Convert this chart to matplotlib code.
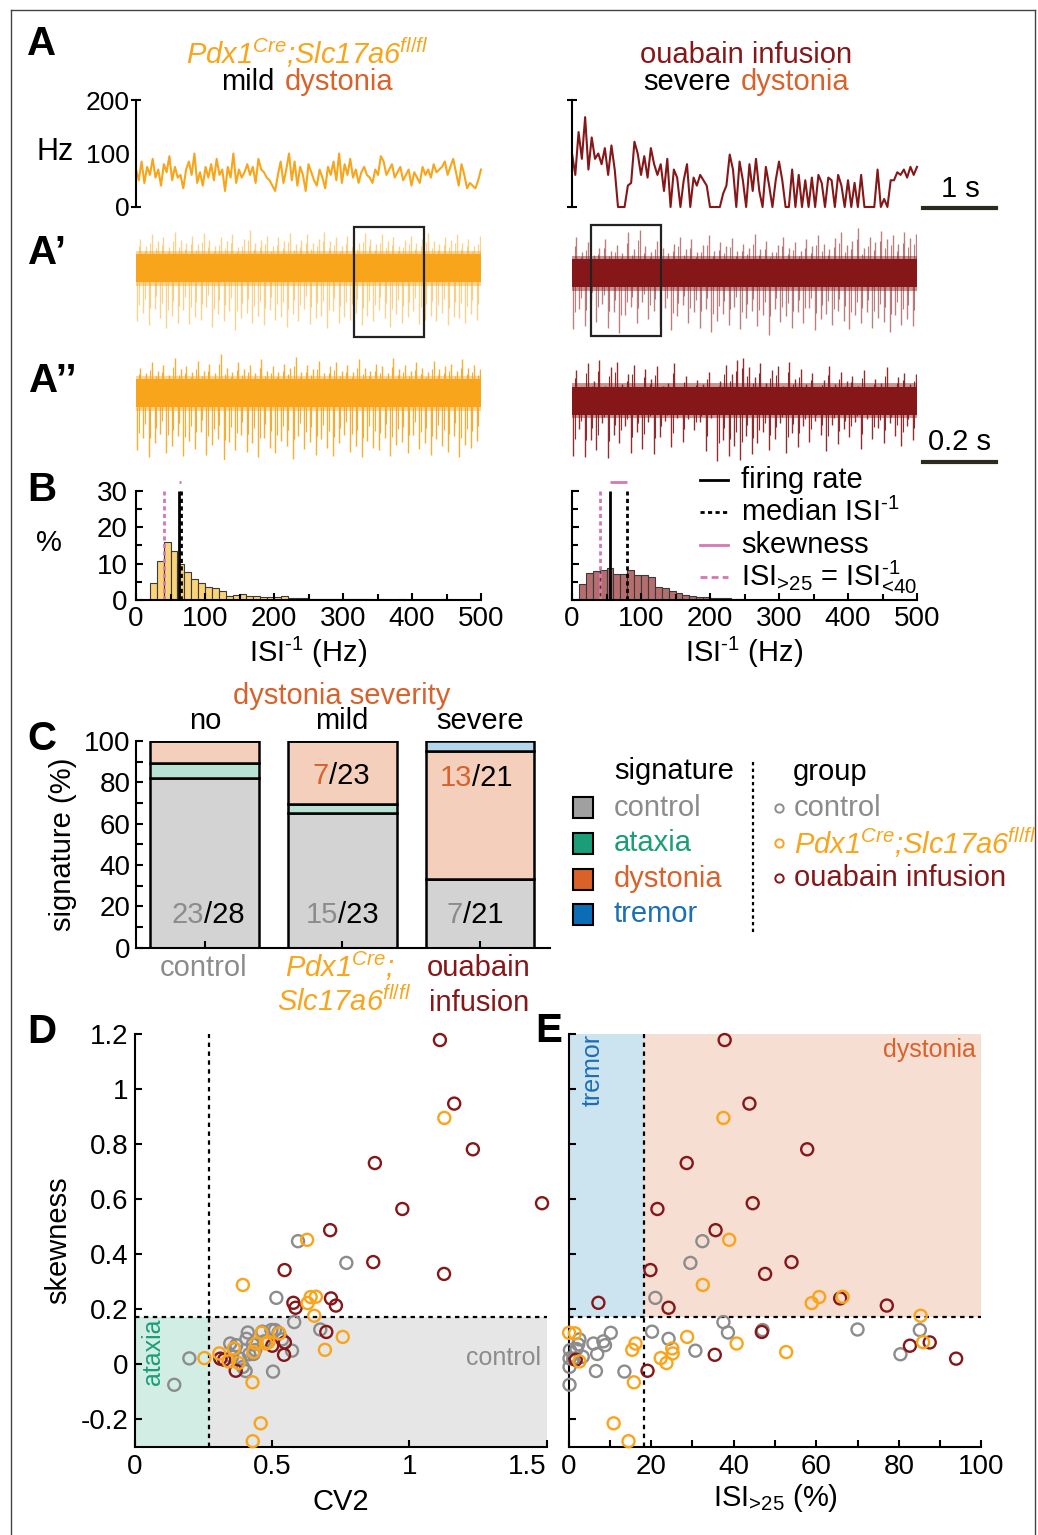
import numpy as np
import matplotlib
matplotlib.use('Agg')
import matplotlib.pyplot as plt
from matplotlib.lines import Line2D
from matplotlib.patches import Rectangle

# ------------------------------------------------------------------ data
# A: instantaneous firing rate (Hz)
mild_rate_hz = [70, 50, 85, 45, 75, 60, 90, 55, 70, 40, 80, 65, 95, 50, 75, 55, 60, 35, 70, 85,
                60, 100, 45, 65, 40, 75, 55, 80, 50, 90, 60, 70, 30, 75, 55, 100, 45, 70, 55, 65,
                80, 60, 75, 45, 90, 70, 65, 55, 50, 40, 30, 60, 85, 45, 70, 100, 50, 85, 40, 75,
                60, 30, 80, 65, 50, 40, 70, 55, 35, 75, 60, 85, 50, 100, 45, 80, 60, 90, 55, 70,
                45, 65, 75, 60, 55, 45, 70, 60, 95, 85, 60, 70, 80, 55, 65, 75, 50, 60, 70, 40,
                65, 55, 45, 75, 60, 70, 55, 80, 65, 70, 75, 85, 60, 75, 90, 65, 40, 80, 60, 35,
                45, 40, 35, 50, 70]
severe_rate_hz = [100, 60, 140, 90, 168, 70, 130, 90, 100, 80, 110, 60, 115, 70, 0, 0, 0, 40, 45, 122,
                  100, 60, 95, 55, 110, 80, 60, 80, 30, 90, 0, 70, 55, 0, 50, 80, 0, 55, 40, 60,
                  50, 40, 0, 0, 0, 0, 25, 40, 98, 70, 0, 85, 50, 0, 80, 30, 90, 30, 0, 75,
                  40, 0, 50, 85, 50, 0, 0, 70, 0, 60, 0, 50, 0, 55, 0, 60, 45, 0, 55, 50,
                  0, 60, 40, 0, 50, 0, 45, 0, 60, 0, 0, 0, 0, 70, 0, 15, 0, 50, 50, 65,
                  60, 70, 55, 75, 60, 75]

# A' / A'': raw traces (relative amplitude; noise band half-width, spike peaks)
noise_band = {'mild_Ap': 1.0, 'mild_App': 1.0, 'sev_Ap': 1.0, 'sev_App': 1.0}
mild_Ap_up = [2.1, 1.6, 2.4, 1.9, 2.2, 1.5, 2.6, 2.0, 1.8, 2.3, 1.7, 2.5, 2.0, 1.6, 2.2, 1.9, 2.4, 1.5, 2.1, 2.7,
              1.8, 2.0, 2.3, 1.6, 2.2, 1.9, 2.5, 1.7, 2.0, 2.4, 1.8, 2.1, 2.6, 1.9, 2.2, 1.6, 2.3, 2.0, 1.8, 2.5,
              2.1, 1.7, 2.4, 1.9, 2.2, 1.6, 2.0, 2.3, 1.8, 2.1, 2.5, 1.9, 1.7, 2.2, 2.0, 2.4, 1.8, 2.1, 1.6, 2.3]
mild_Ap_down = [3.8, 3.2, 4.1, 2.9, 3.6, 4.3, 3.4, 3.9, 3.0, 4.0, 3.5, 3.7, 2.8, 4.2, 3.3, 3.8, 3.1, 4.4, 3.6, 3.2,
                3.9, 3.4, 4.1, 3.0, 3.7, 3.5, 4.2, 3.3, 3.8, 2.9, 4.0, 3.6, 3.4, 4.3, 3.1, 3.9, 3.5, 3.7, 3.2, 4.1,
                3.4, 3.8, 3.0, 3.6, 4.2, 3.3, 3.9, 3.5, 3.1, 4.0, 3.7, 3.4, 3.8, 3.2, 4.1, 3.5, 3.6, 3.9, 3.3, 3.7]
mild_App_up = [1.8, 1.4, 2.2, 1.6, 2.0, 1.3, 2.5, 1.7, 1.9, 1.5, 2.3, 1.6, 2.1, 1.4, 2.8, 1.8, 1.5, 2.2, 1.7, 2.0,
               1.4, 2.4, 1.6, 1.9, 1.5, 2.1, 1.8, 2.6, 1.5, 2.0, 1.7, 2.3, 1.4, 1.9, 2.2, 1.6, 2.0, 1.5, 2.4, 1.8,
               1.6, 2.1, 1.9, 1.4, 2.5, 1.7, 2.0, 1.6, 2.2, 1.8, 1.5, 2.3, 1.7, 1.9, 2.1, 1.6, 2.4, 1.8, 2.0, 1.7]
mild_App_down = [4.1, 3.2, 4.6, 3.6, 2.9, 4.3, 3.8, 3.1, 4.5, 3.4, 4.0, 2.8, 4.4, 3.7, 3.3, 4.8, 3.5, 4.1, 3.0, 4.2,
                 3.6, 4.6, 3.2, 3.9, 4.3, 3.4, 3.8, 4.7, 3.1, 4.0, 3.5, 4.4, 3.3, 3.9, 4.5, 3.6, 3.0, 4.2, 3.8, 4.6,
                 3.4, 3.9, 4.1, 3.2, 4.5, 3.7, 3.5, 4.3, 3.0, 4.0, 3.6, 4.4, 3.3, 3.8, 4.2, 3.1, 4.6, 3.7, 3.9, 3.4]
sev_Ap_up = [2.6, 1.5, 2.2, 1.3, 1.8, 2.4, 1.6, 2.0, 1.4, 2.9, 1.7, 3.1, 1.9, 1.5, 2.3, 1.8, 1.4, 2.1, 2.6, 1.7,
             2.4, 1.5, 2.0, 2.7, 1.6, 2.2, 1.9, 2.5, 1.6, 2.1, 1.8, 2.8, 1.7, 2.3, 1.5, 2.0, 2.6, 1.8, 2.2, 1.6,
             2.4, 1.9, 2.7, 2.1, 1.7, 2.5, 2.9, 2.0, 2.3, 3.2, 1.8, 2.6, 2.2, 3.0, 2.4, 2.7, 2.1, 2.9, 2.5, 2.8]
sev_Ap_down = [4.0, 2.6, 3.8, 1.9, 3.5, 2.2, 3.9, 2.8, 4.3, 3.0, 2.4, 3.6, 2.1, 3.3, 2.7, 3.8, 2.5, 4.1, 3.1, 2.3,
               3.6, 2.8, 3.9, 2.6, 4.2, 3.4, 2.9, 3.7, 2.4, 4.0, 3.2, 2.7, 3.8, 3.0, 4.4, 2.6, 3.5, 3.1, 3.9, 2.8,
               3.6, 2.5, 4.1, 3.3, 2.9, 3.7, 2.7, 3.4, 4.0, 3.0, 3.6, 2.8, 3.9, 3.2, 3.5, 4.2, 3.0, 3.7, 3.3, 3.8]
sev_App_up = [2.2, 1.0, 2.7, 1.4, 2.9, 1.1, 2.4, 2.8, 1.2, 1.9, 2.6, 1.0, 2.3, 1.6, 2.5, 1.1, 1.3, 2.7, 1.0, 1.8,
              1.0, 1.5, 1.2, 2.1, 1.0, 1.4, 2.6, 1.9, 2.9, 3.1, 2.4, 1.7, 2.7, 1.3, 2.2, 2.5, 1.1, 2.8, 1.6, 2.3,
              1.2, 2.0, 1.0, 1.5, 2.5, 1.2, 2.1, 1.4, 1.8, 1.1, 2.2, 1.0, 1.6, 1.3, 2.4, 1.0, 1.7, 2.0, 1.2, 1.9]
sev_App_down = [3.9, 2.0, 4.0, 2.8, 3.5, 1.6, 4.1, 2.4, 3.0, 1.8, 3.7, 2.2, 3.4, 1.5, 3.8, 2.6, 1.4, 3.3, 1.2, 2.9,
                1.3, 2.1, 1.5, 3.6, 1.2, 4.3, 2.8, 3.9, 3.2, 4.2, 2.5, 3.8, 3.0, 2.2, 3.5, 2.7, 1.6, 3.7, 2.3, 3.3,
                1.8, 2.9, 1.4, 2.4, 3.6, 1.7, 3.1, 2.0, 2.6, 1.5, 3.4, 1.3, 2.7, 1.9, 3.0, 1.6, 2.5, 3.2, 1.8, 2.8]

# B: ISI^-1 histograms (% per 10 Hz bin, 0-500 Hz)
hist_bin_width = 10
mild_hist_pct = [0.0, 0.0, 4.6, 10.7, 15.8, 13.5, 9.8, 7.6, 5.9, 4.6,
                 3.6, 3.2, 2.6, 1.2, 1.3, 1.6, 1.2, 1.0, 0.9, 0.9,
                 0.9, 1.0, 0.6, 0.6, 0.6, 0.3, 0.4, 0.3, 0.2, 0.3,
                 0.2, 0.3, 0.4, 0.2, 0.1, 0.2, 0.1, 0.1, 0.2, 0.1,
                 0.1, 0.1, 0.1, 0.1, 0.2, 0.1, 0.1, 0.1, 0.1, 0.1]
severe_hist_pct = [0.0, 4.4, 7.3, 7.9, 8.2, 8.7, 7.1, 7.0, 8.2, 6.9,
                   6.8, 6.2, 3.7, 3.2, 2.6, 1.8, 1.5, 1.2, 0.9, 0.7,
                   0.6, 0.5, 0.5, 0.2, 0.2, 0.1, 0.1, 0.1, 0.1, 0.1,
                   0.1, 0.1, 0.05, 0.05, 0.05, 0.05, 0.05, 0.05, 0.05, 0.05,
                   0.05, 0.05, 0.05, 0.05, 0.05, 0.05, 0.05, 0.05, 0.05, 0.05]
mild_stats = {'rate': 62, 'median': 65, 'isi40': 40}
severe_stats = {'rate': 55, 'median': 79, 'isi40': 40}

# C: signature counts per group
group_names = ['control', 'Pdx1', 'ouabain']
severity_names = ['no', 'mild', 'severe']
n_total = [28, 23, 21]
n_control = [23, 15, 7]
n_ataxia = [2, 1, 0]
n_dystonia = [3, 7, 13]
n_tremor = [0, 0, 1]

# D/E: per-neuron values (CV2, ISI>25 %, skewness)
ctrl_cv2 = [0.594, 0.770, 0.515, 0.580, 0.675, 0.198, 0.143, 0.503, 0.572, 0.411, 0.406, 0.347, 0.369, 0.403,
            0.393, 0.416, 0.438, 0.497, 0.510, 0.523, 0.363, 0.432, 0.471, 0.429, 0.536, 0.464, 0.354, 0.382]
ctrl_isi25 = [32.4, 29.5, 21.0, 37.5, 70.0, 0.2, 0.2, 13.5, 30.7, 38.6, 24.2, 6.0, 8.8, 6.6,
              0.2, 80.4, 0.3, 47.0, 85.1, 10.2, 1.9, 6.9, 8.4, 2.3, 2.6, 20.2, 3.4, 1.1]
ctrl_skew = [0.447, 0.368, 0.241, 0.153, 0.126, 0.021, -0.075, -0.027, 0.049, 0.115, 0.092, 0.075, 0.069, -0.025,
             -0.010, 0.036, 0.051, 0.124, 0.124, 0.114, 0.055, 0.037, 0.083, 0.072, 0.090, 0.118, 0.027, 0.020]
pdx_cv2 = [1.127, 0.627, 0.393, 0.629, 0.640, 0.659, 0.653, 0.757, 0.692, 0.253, 0.307, 0.341, 0.360, 0.377,
           0.428, 0.458, 0.429, 0.432, 0.442, 0.461, 0.477, 0.486, 0.526]
pdx_isi25 = [37.5, 38.9, 32.5, 58.9, 60.7, 66.4, 85.3, 28.7, 15.4, 22.3, 25.2, 2.6, 25.1, 23.7,
             15.8, 10.9, 14.5, 52.7, 16.2, 0.1, 40.7, 85.9, 1.5]
pdx_skew = [0.895, 0.452, 0.288, 0.222, 0.244, 0.245, 0.176, 0.099, 0.052, 0.022, 0.039, 0.010, 0.057, 0.004,
            -0.066, -0.215, -0.280, 0.044, 0.075, 0.114, 0.075, 0.080, 0.112]
oua_cv2 = [1.111, 1.163, 1.231, 0.874, 0.974, 1.483, 0.711, 0.868, 1.126, 0.545, 0.577, 0.585, 0.714, 0.732,
           0.697, 0.546, 0.543, 0.500, 0.311, 0.325, 0.367]
oua_isi25 = [37.8, 43.8, 57.8, 28.6, 21.5, 44.6, 35.6, 54.0, 47.6, 19.8, 7.2, 24.2, 65.8, 77.1,
             46.8, 87.5, 35.4, 82.7, 93.9, 1.7, 19.1]
oua_skew = [1.178, 0.947, 0.781, 0.731, 0.564, 0.585, 0.487, 0.371, 0.328, 0.342, 0.223, 0.205, 0.239, 0.213,
            0.117, 0.079, 0.034, 0.067, 0.020, 0.016, -0.024]
cv2_threshold = 0.27
skew_threshold = 0.172
isi25_threshold = 18.3

# ------------------------------------------------------------------ style
plt.rcParams['font.family'] = ['Liberation Sans', 'DejaVu Sans']
plt.rcParams['mathtext.fontset'] = 'custom'
plt.rcParams['mathtext.rm'] = 'Liberation Sans'
plt.rcParams['mathtext.it'] = 'Liberation Sans:italic'
plt.rcParams['mathtext.bf'] = 'Liberation Sans:bold'
plt.rcParams['axes.linewidth'] = 1.5

FS = 21          # main text size
TFS = 20         # tick labels
ORANGE = '#F8A51B'
DRED = '#861719'
DYST = '#D9622B'
GREY = '#8C8C8C'
GREEN = '#1B9E77'
BLUE = '#1B6FB5'
PINK = '#D677B3'
ISI_INV = r'ISI$^{\text{-1}}$'

W, H = 1038, 1535
fig = plt.figure(figsize=(W / 100, H / 100), dpi=100)


def box(x0, y0, x1, y1):
    return [x0 / W, 1 - y1 / H, (x1 - x0) / W, (y1 - y0) / H]


def ftxt(x, y, s, **kw):
    kw.setdefault('ha', 'center')
    kw.setdefault('va', 'center')
    kw.setdefault('fontsize', FS)
    return fig.text(x / W, 1 - y / H, s, **kw)


def fline(xs, ys, **kw):
    fig.add_artist(Line2D([x / W for x in xs], [1 - y / H for y in ys],
                          transform=fig.transFigure, **kw))


def frect(x0, y0, x1, y1, **kw):
    fig.add_artist(Rectangle((x0 / W, 1 - y1 / H), (x1 - x0) / W, (y1 - y0) / H,
                             transform=fig.transFigure, **kw))


# border
fline([11, 1035], [10, 10], color='#444444', lw=1)
fline([11, 11], [10, 1535], color='#444444', lw=1)
fline([1035, 1035], [10, 1535], color='#444444', lw=1)

# panel letters
for lbl, (x, y) in {'A': (42, 44), "A’": (47, 253), "A’’": (53, 381), 'B': (42, 490),
                    'C': (42, 739), 'D': (42, 1032), 'E': (549, 1031)}.items():
    ftxt(x, y, lbl, fontsize=29, fontweight='bold')

# ------------------------------------------------------------------ A titles
ftxt(307, 53, r'Pdx1$^{Cre}$;Slc17a6$^{fl/fl}$', color=ORANGE, fontstyle='italic')
ftxt(274, 82, 'mild', ha='right')
ftxt(285, 82, 'dystonia', ha='left', color=DYST)
ftxt(746, 55, 'ouabain infusion', color=DRED)
ftxt(731, 82, 'severe', ha='right')
ftxt(741, 82, 'dystonia', ha='left', color=DYST)

# A firing rate
for (x0, x1), rate, col, lab in [((136, 481), mild_rate_hz, ORANGE, True),
                                 ((572, 917), severe_rate_hz, DRED, False)]:
    ax = fig.add_axes(box(x0, 100, x1, 207))
    ax.plot(np.arange(len(rate)), rate, color=col, lw=1.5, clip_on=False)
    ax.set_xlim(0, len(rate) - 1)
    ax.set_ylim(0, 200)
    for s in ['top', 'right', 'bottom']:
        ax.spines[s].set_visible(False)
    ax.set_xticks([])
    ax.set_yticks([0, 100, 200])
    ax.tick_params(axis='y', direction='inout', length=7, width=1.5, labelsize=19, pad=1)
    ax.yaxis.get_major_ticks()[1].tick1line.set_visible(False)
    if not lab:
        ax.set_yticklabels([])
    ax.patch.set_alpha(0)
ftxt(55, 152, 'Hz', fontsize=22)

# 1 s scale bar
fline([923, 996], [208, 208], color='#2B2A1C', lw=3)
ftxt(960, 189, '1 s')

# A' / A'' raw traces
raw = [((136, 481), 268, mild_Ap_up, mild_Ap_down, noise_band['mild_Ap'], ORANGE, 0.5),
       ((136, 481), 393, mild_App_up, mild_App_down, noise_band['mild_App'], ORANGE, 0.9),
       ((572, 917), 273, sev_Ap_up, sev_Ap_down, noise_band['sev_Ap'], DRED, 0.55),
       ((572, 917), 401, sev_App_up, sev_App_down, noise_band['sev_App'], DRED, 0.9)]
ppu = 14.0
for (x0, x1), yc, up, dn, band, col, alpha in raw:
    ax = fig.add_axes(box(x0, yc - 3.6 * ppu, x1, yc + 4.8 * ppu))
    ax.set_xlim(0, 1)
    ax.set_ylim(-4.8, 3.6)
    ax.axis('off')
    n = len(up)
    xs_up = (np.arange(n) + 0.75) / n
    xs_dn = (np.arange(len(dn)) + 0.25) / len(dn)
    xs_half = (np.arange(n) + 0.5) / n
    ax.vlines(xs_dn, [-v for v in dn], 0, color=col, lw=1.0, alpha=alpha)
    ax.vlines(xs_up, 0, up, color=col, lw=1.0, alpha=alpha)
    ax.vlines(xs_half, [-v * 0.7 for v in dn], [v * 0.75 for v in up], color=col, lw=0.8, alpha=alpha)
    ax.fill_between([0, 1], -band * 1.25, band * 1.25, color=col, lw=0, alpha=0.45)
    ax.fill_between([0, 1], -band, band, color=col, lw=0)

frect(354, 227, 424, 337, fill=False, ec='#222222', lw=1.6)
frect(591, 225, 661, 336, fill=False, ec='#222222', lw=1.6)
fline([923, 996], [462, 462], color='#2B2A1C', lw=3)
ftxt(960, 442, '0.2 s')

# ------------------------------------------------------------------ B histograms
edges = np.arange(0, 500, hist_bin_width)
for (x0, x1), hist, stats, fc, lab in [((136, 481), mild_hist_pct, mild_stats, '#F9D27A', True),
                                       ((572, 917), severe_hist_pct, severe_stats, '#B56D6D', False)]:
    ax = fig.add_axes(box(x0, 490.7, x1, 600))
    ax.bar(edges, hist, width=hist_bin_width, align='edge', color=fc, edgecolor='#3a3a3a', lw=0.8)
    ax.vlines(stats['isi40'], 0, 30, color=PINK, lw=2, linestyles=(0, (1.5, 1.2)))
    ax.vlines(stats['rate'], 0, 30, color='black', lw=2)
    ax.vlines(stats['median'], 0, 30, color='black', lw=2, linestyles=(0, (1.5, 1.2)))
    ax.hlines(32.3, stats['rate'], stats['median'], color=PINK, lw=2, clip_on=False)
    ax.set_xlim(0, 500)
    ax.set_ylim(0, 30)
    ax.spines['top'].set_visible(False)
    ax.spines['right'].set_visible(False)
    ax.set_xticks(range(0, 501, 100))
    ax.set_xticks(range(0, 501, 50), minor=True)
    ax.set_yticks([0, 10, 20, 30])
    ax.set_yticks([5, 15, 25], minor=True)
    ax.tick_params(which='both', direction='in', width=1.5, labelsize=TFS)
    ax.tick_params(which='major', length=5)
    ax.tick_params(which='minor', length=4)
    ax.tick_params(axis='x', pad=4)
    ax.tick_params(axis='y', pad=6)
    if not lab:
        ax.set_yticklabels([])
    ax.patch.set_alpha(0)
    ax.set_xlabel(ISI_INV + ' (Hz)', fontsize=FS, labelpad=2)
ftxt(49, 543, '%')

# B legend
leg_rows = [(480, 'black', '-', 'firing rate'),
            (512, 'black', (0, (1.5, 1.2)), 'median ' + ISI_INV),
            (545, PINK, '-', 'skewness'),
            (577, PINK, (0, (2.5, 1.5)), r'ISI$_{\text{>25}}$ = ISI$^{\text{-1}}_{\text{<40}}$')]
for y, c, ls, t in leg_rows:
    fline([700, 728], [y, y], color=c, lw=2, ls=ls)
    ftxt(741, y, t, ha='left')

# ------------------------------------------------------------------ C stacked bars
axc = fig.add_axes(box(136, 741, 550, 947.5))
xpos = np.arange(1, 4)
tot = np.array(n_total, float)
layers = [(n_control, '#D3D3D3'), (n_ataxia, '#B8E3D4'), (n_dystonia, '#F4D0BC'), (n_tremor, '#B4D5EA')]
bottom = np.zeros(3)
for vals, c in layers:
    pct = 100 * np.array(vals) / tot
    axc.bar(xpos, pct, bottom=bottom, width=0.79, color=c, edgecolor='black', lw=1.8)
    bottom += pct
axc.set_xlim(0.5, 3.51)
axc.set_ylim(0, 100)
axc.spines['top'].set_visible(False)
axc.spines['right'].set_visible(False)
axc.set_yticks(range(0, 101, 20))
axc.set_yticks(range(10, 100, 20), minor=True)
axc.set_xticks(xpos)
axc.set_xticklabels([])
axc.tick_params(which='both', direction='in', width=1.5, labelsize=TFS, pad=4)
axc.tick_params(which='major', length=5)
axc.tick_params(which='minor', length=5)
axc.set_ylabel('signature (%)', fontsize=FS, labelpad=5)
axc.patch.set_alpha(0)

ftxt(342, 696, 'dystonia severity', color=DYST)
for xc, s in zip([205, 342, 480], severity_names):
    ftxt(xc, 721, s)
ftxt(204, 968, 'control', color=GREY)
ftxt(340, 966, r'Pdx1$^{Cre}$;', color=ORANGE, fontstyle='italic')
ftxt(344, 1002, r'Slc17a6$^{fl/fl}$', color=ORANGE, fontstyle='italic')
ftxt(479, 968, 'ouabain', color=DRED)
ftxt(479, 1003, 'infusion', color=DRED)
# fractions
for xs, y, a, b, ca in [(204, 915, n_control[0], n_total[0], GREY),
                        (338, 915, n_control[1], n_total[1], GREY),
                        (463, 915, n_control[2], n_total[2], GREY),
                        (329, 776, n_dystonia[1], n_total[1], DYST),
                        (472, 778, n_dystonia[2], n_total[2], DYST)]:
    ftxt(xs, y, str(a), ha='right', color=ca)
    ftxt(xs, y, '/' + str(b), ha='left')

# C legends
ftxt(614, 771, 'signature', ha='left')
sig_items = [('control', '#A0A0A0', GREY), ('ataxia', '#1B9E77', GREEN),
             ('dystonia', '#DA6229', DYST), ('tremor', '#0B6DB5', BLUE)]
for i, (t, fc, tc) in enumerate(sig_items):
    y = 808 + 35.5 * i
    frect(573, y - 10.5, 593, y + 10.5, fc=fc, ec='black', lw=1.5)
    ftxt(614, y, t, ha='left', color=tc)
fline([753, 753], [762, 932], color='black', lw=1.6, ls=(0, (1.5, 1.5)))
ftxt(793, 772, 'group', ha='left')
grp_items = [('control', GREY, 'normal'), (r'Pdx1$^{Cre}$;Slc17a6$^{fl/fl}$', ORANGE, 'italic'),
             ('ouabain infusion', DRED, 'normal')]
for i, (t, c, st) in enumerate(grp_items):
    y = 808 + 35 * i
    fig.add_artist(Line2D([779 / W], [1 - y / H], transform=fig.transFigure, marker='o', ms=6,
                          mfc='none', mec=c, mew=1.4, ls='none'))
    ftxt(794, y, t, ha='left', color=c, fontstyle=st)

# ------------------------------------------------------------------ D / E scatter
ylo, yhi = -0.3, 1.2
axd = fig.add_axes(box(135, 1034, 546.7, 1446.7))
axd.add_patch(Rectangle((0, ylo), cv2_threshold, skew_threshold - ylo, color='#D2EEE4', lw=0, zorder=0))
axd.add_patch(Rectangle((cv2_threshold, ylo), 1.5 - cv2_threshold, skew_threshold - ylo,
                        color='#E6E6E6', lw=0, zorder=0))
axd.axvline(cv2_threshold, color='black', lw=1.6, ls=(0, (2, 2)))
axd.axhline(skew_threshold, color='black', lw=1.6, ls=(0, (2, 2)))

axe = fig.add_axes(box(568.7, 1034, 981.3, 1446.7))
axe.add_patch(Rectangle((0, skew_threshold), isi25_threshold, yhi - skew_threshold,
                        color='#CCE3F0', lw=0, zorder=0))
axe.add_patch(Rectangle((isi25_threshold, skew_threshold), 100 - isi25_threshold, yhi - skew_threshold,
                        color='#F7DED2', lw=0, zorder=0))
axe.axvline(isi25_threshold, color='black', lw=1.6, ls=(0, (2, 2)))
axe.axhline(skew_threshold, color='black', lw=1.6, ls=(0, (2, 2)))

for xs_d, xs_e, ys, c in [(ctrl_cv2, ctrl_isi25, ctrl_skew, GREY),
                          (oua_cv2, oua_isi25, oua_skew, DRED),
                          (pdx_cv2, pdx_isi25, pdx_skew, ORANGE)]:
    axd.scatter(xs_d, ys, s=75, facecolors='none', edgecolors=c, linewidths=1.7, zorder=3, clip_on=False)
    axe.scatter(xs_e, ys, s=75, facecolors='none', edgecolors=c, linewidths=1.7, zorder=3, clip_on=False)

for ax in (axd, axe):
    ax.set_ylim(ylo, yhi)
    ax.spines['top'].set_visible(False)
    ax.spines['right'].set_visible(False)
    ax.set_yticks([-0.2, 0, 0.2, 0.4, 0.6, 0.8, 1.0, 1.2])
    ax.tick_params(which='both', direction='in', width=1.5, labelsize=TFS, length=5, pad=5)
    ax.patch.set_alpha(0)

axd.set_xlim(0, 1.5)
axd.set_xticks([0, 0.5, 1, 1.5])
axd.set_xticklabels(['0', '0.5', '1', '1.5'])
axd.get_xticklabels()[-1].set_ha('right')
axd.set_yticklabels(['-0.2', '0', '0.2', '0.4', '0.6', '0.8', '1', '1.2'])
axd.set_xlabel('CV2', fontsize=FS, labelpad=6)
axd.set_ylabel('skewness', fontsize=FS, labelpad=6)

axe.set_xlim(0, 100)
axe.set_xticks(range(0, 101, 20))
axe.set_xticks(range(10, 100, 20), minor=True)
axe.set_yticklabels([])
axe.set_xlabel(r'ISI$_{\text{>25}}$ (%)', fontsize=FS, labelpad=2)

ftxt(153, 1352, 'ataxia', color=GREEN, fontsize=18, rotation=90)
ftxt(541, 1358, 'control', color=GREY, fontsize=18, ha='right')
ftxt(593, 1070, 'tremor', color=BLUE, fontsize=18, rotation=90)
ftxt(976, 1050, 'dystonia', color=DYST, fontsize=18, ha='right')

fig.savefig('out.png', dpi=100)
